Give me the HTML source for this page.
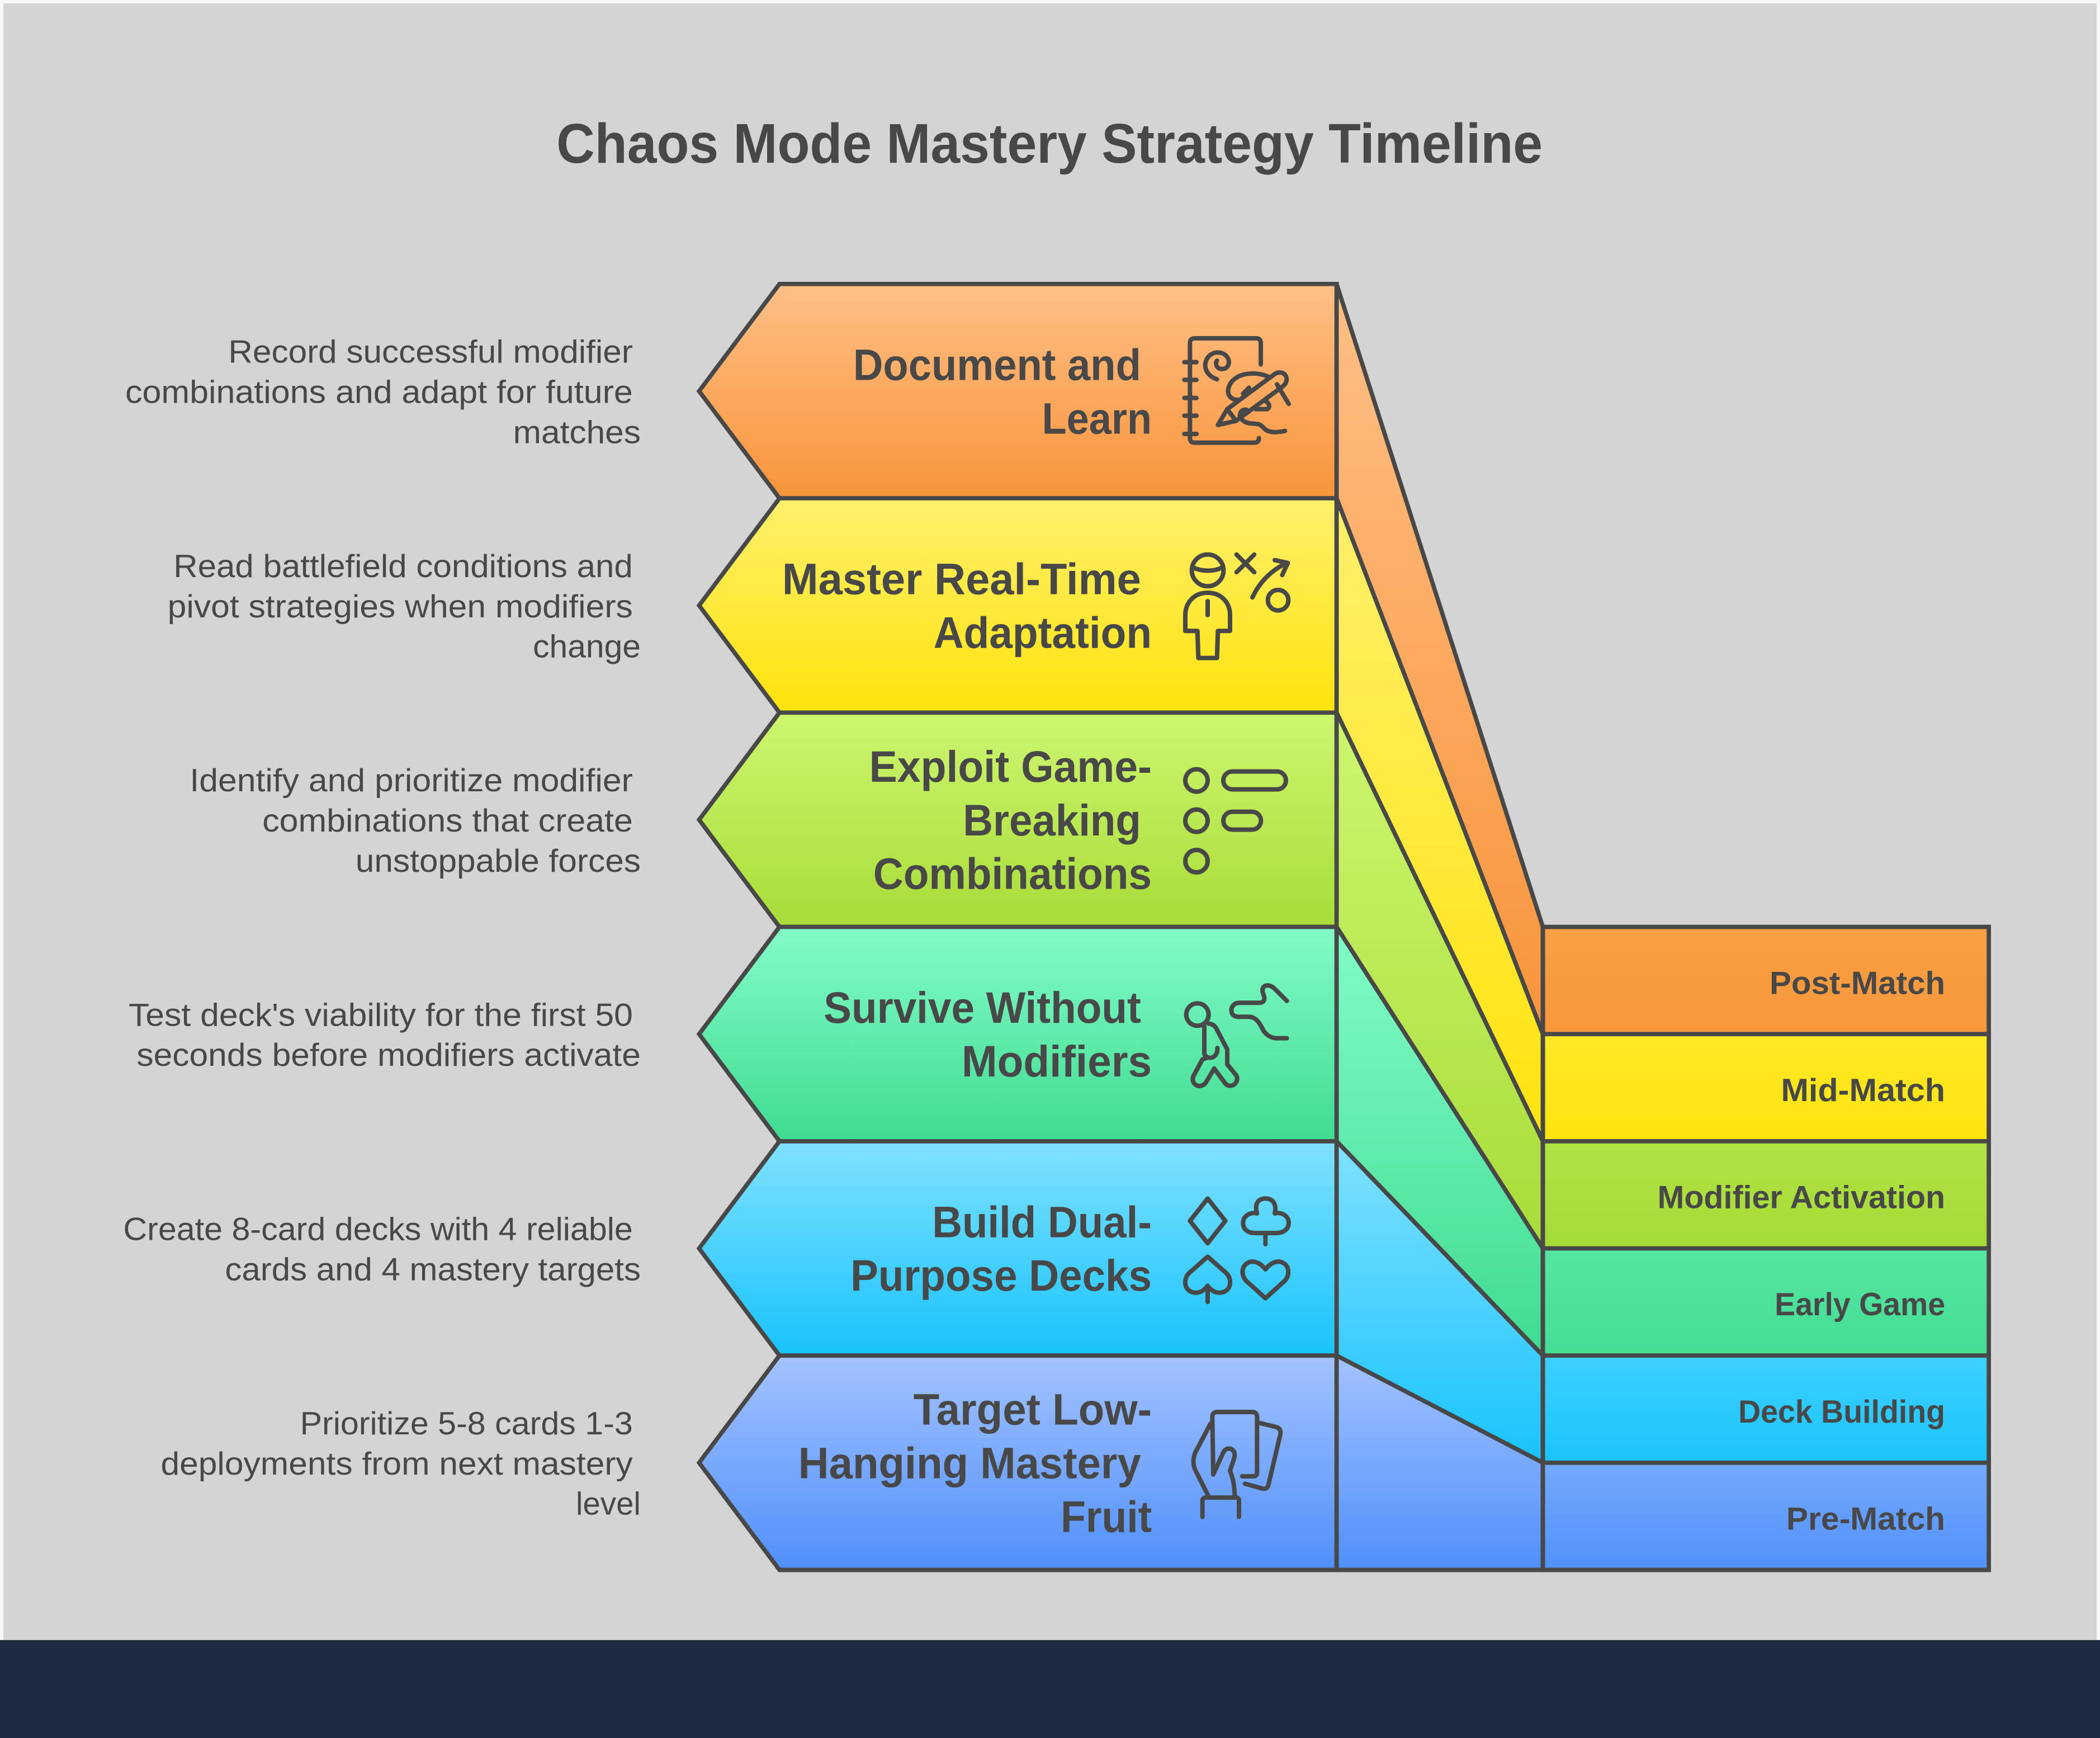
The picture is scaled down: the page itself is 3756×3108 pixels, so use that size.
<!DOCTYPE html>
<html>
<head>
<meta charset="utf-8">
<style>
  html, body { margin: 0; padding: 0; background: #f7f8f9; }
  svg { display: block; }
  .d { font-family: "Liberation Sans", Arial, sans-serif; font-size: 24px; fill: #484848; }
  .t { font-family: "Liberation Sans", Arial, sans-serif; font-size: 33px; font-weight: bold; fill: #484848; }
  .r { font-family: "Liberation Sans", Arial, sans-serif; font-size: 24px; font-weight: bold; fill: #484848; }
  .h { font-family: "Liberation Sans", Arial, sans-serif; font-size: 42px; font-weight: bold; fill: #484848; }
  .ic { fill: none; stroke: #484848; stroke-width: 24; stroke-linecap: round; stroke-linejoin: round; }
</style>
</head>
<body>
<svg width="3756" height="3108" viewBox="0 0 1568 1297.5" preserveAspectRatio="none" xmlns="http://www.w3.org/2000/svg">
  <defs>
    <linearGradient id="g1" x1="0" y1="0" x2="0" y2="1"><stop offset="0" stop-color="#ffbf86"/><stop offset="1" stop-color="#f8943a"/></linearGradient>
    <linearGradient id="g2" x1="0" y1="0" x2="0" y2="1"><stop offset="0" stop-color="#fff06c"/><stop offset="1" stop-color="#ffe30d"/></linearGradient>
    <linearGradient id="g3" x1="0" y1="0" x2="0" y2="1"><stop offset="0" stop-color="#cdf66f"/><stop offset="1" stop-color="#a8dc38"/></linearGradient>
    <linearGradient id="g4" x1="0" y1="0" x2="0" y2="1"><stop offset="0" stop-color="#82fcc8"/><stop offset="1" stop-color="#40db91"/></linearGradient>
    <linearGradient id="g5" x1="0" y1="0" x2="0" y2="1"><stop offset="0" stop-color="#80e1ff"/><stop offset="1" stop-color="#18c3fb"/></linearGradient>
    <linearGradient id="g6" x1="0" y1="0" x2="0" y2="1"><stop offset="0" stop-color="#a3c3ff"/><stop offset="1" stop-color="#4f8ffa"/></linearGradient>

    <linearGradient id="r1" x1="0" y1="0" x2="0" y2="1"><stop offset="0" stop-color="#f9a044"/><stop offset="1" stop-color="#f8963a"/></linearGradient>
    <linearGradient id="r2" x1="0" y1="0" x2="0" y2="1"><stop offset="0" stop-color="#ffe826"/><stop offset="1" stop-color="#ffe40f"/></linearGradient>
    <linearGradient id="r3" x1="0" y1="0" x2="0" y2="1"><stop offset="0" stop-color="#b0e244"/><stop offset="1" stop-color="#a5db36"/></linearGradient>
    <linearGradient id="r4" x1="0" y1="0" x2="0" y2="1"><stop offset="0" stop-color="#55e6a2"/><stop offset="1" stop-color="#44dd94"/></linearGradient>
    <linearGradient id="r5" x1="0" y1="0" x2="0" y2="1"><stop offset="0" stop-color="#3dd0ff"/><stop offset="1" stop-color="#1bc4fc"/></linearGradient>
    <linearGradient id="r6" x1="0" y1="0" x2="0" y2="1"><stop offset="0" stop-color="#74a9fd"/><stop offset="1" stop-color="#5191fa"/></linearGradient>
  </defs>

  <!-- background -->
  <rect x="0" y="0" width="1568" height="1297.5" fill="#f7f8f9"/>
  <rect x="2.5" y="2.5" width="1563" height="1222" fill="#d4d4d4"/>
  <rect x="0" y="1224.4" width="1568" height="73.1" fill="#1b2a40"/>

  <!-- title -->
  <text class="h" x="1151.8" y="121.4" text-anchor="end" textLength="736.3" lengthAdjust="spacingAndGlyphs">Chaos Mode Mastery Strategy Timeline</text>

  <g stroke="#484848" stroke-width="3.2" stroke-linejoin="miter">
    <!-- connector bands -->
    <polygon points="998,212 1152,692 1152,772 998,372" fill="url(#g1)"/>
    <polygon points="998,372 1152,772 1152,852 998,532" fill="url(#g2)"/>
    <polygon points="998,532 1152,852 1152,932 998,692" fill="url(#g3)"/>
    <polygon points="998,692 1152,932 1152,1012 998,852" fill="url(#g4)"/>
    <polygon points="998,852 1152,1012 1152,1092 998,1012" fill="url(#g5)"/>
    <polygon points="998,1012 1152,1092 1152,1172 998,1172" fill="url(#g6)"/>

    <!-- chevrons -->
    <polygon points="582,212 998,212 998,372 582,372 522,292" fill="url(#g1)"/>
    <polygon points="582,372 998,372 998,532 582,532 522,452" fill="url(#g2)"/>
    <polygon points="582,532 998,532 998,692 582,692 522,612" fill="url(#g3)"/>
    <polygon points="582,692 998,692 998,852 582,852 522,772" fill="url(#g4)"/>
    <polygon points="582,852 998,852 998,1012 582,1012 522,932" fill="url(#g5)"/>
    <polygon points="582,1012 998,1012 998,1172 582,1172 522,1092" fill="url(#g6)"/>

    <!-- right boxes -->
    <rect x="1152" y="692" width="333" height="80" fill="url(#r1)"/>
    <rect x="1152" y="772" width="333" height="80" fill="url(#r2)"/>
    <rect x="1152" y="852" width="333" height="80" fill="url(#r3)"/>
    <rect x="1152" y="932" width="333" height="80" fill="url(#r4)"/>
    <rect x="1152" y="1012" width="333" height="80" fill="url(#r5)"/>
    <rect x="1152" y="1092" width="333" height="80" fill="url(#r6)"/>
  </g>

  <!-- descriptions -->
  <text class="d" x="472.5" y="270.8" text-anchor="end" textLength="302" lengthAdjust="spacingAndGlyphs">Record successful modifier</text>
  <text class="d" x="472.5" y="300.8" text-anchor="end" textLength="379" lengthAdjust="spacingAndGlyphs">combinations and adapt for future</text>
  <text class="d" x="478.4" y="330.8" text-anchor="end" textLength="95.3" lengthAdjust="spacingAndGlyphs">matches</text>

  <text class="d" x="472.5" y="430.8" text-anchor="end" textLength="343" lengthAdjust="spacingAndGlyphs">Read battlefield conditions and</text>
  <text class="d" x="472.5" y="460.8" text-anchor="end" textLength="347.4" lengthAdjust="spacingAndGlyphs">pivot strategies when modifiers</text>
  <text class="d" x="478.4" y="490.8" text-anchor="end" textLength="80.5" lengthAdjust="spacingAndGlyphs">change</text>

  <text class="d" x="472.5" y="590.8" text-anchor="end" textLength="330.8" lengthAdjust="spacingAndGlyphs">Identify and prioritize modifier</text>
  <text class="d" x="472.5" y="620.8" text-anchor="end" textLength="276.6" lengthAdjust="spacingAndGlyphs">combinations that create</text>
  <text class="d" x="478.4" y="650.8" text-anchor="end" textLength="213" lengthAdjust="spacingAndGlyphs">unstoppable forces</text>

  <text class="d" x="472.5" y="765.8" text-anchor="end" textLength="376.5" lengthAdjust="spacingAndGlyphs">Test deck's viability for the first 50</text>
  <text class="d" x="478.4" y="795.8" text-anchor="end" textLength="376.4" lengthAdjust="spacingAndGlyphs">seconds before modifiers activate</text>

  <text class="d" x="472.5" y="925.8" text-anchor="end" textLength="380.5" lengthAdjust="spacingAndGlyphs">Create 8-card decks with 4 reliable</text>
  <text class="d" x="478.4" y="955.8" text-anchor="end" textLength="310.4" lengthAdjust="spacingAndGlyphs">cards and 4 mastery targets</text>

  <text class="d" x="472.5" y="1070.8" text-anchor="end" textLength="248.5" lengthAdjust="spacingAndGlyphs">Prioritize 5-8 cards 1-3</text>
  <text class="d" x="472.5" y="1100.8" text-anchor="end" textLength="352.5" lengthAdjust="spacingAndGlyphs">deployments from next mastery</text>
  <text class="d" x="478.4" y="1130.8" text-anchor="end" textLength="48.4" lengthAdjust="spacingAndGlyphs">level</text>

  <!-- chevron titles -->
  <text class="t" x="852" y="283.7" text-anchor="end" textLength="215" lengthAdjust="spacingAndGlyphs">Document and</text>
  <text class="t" x="860" y="323.7" text-anchor="end" textLength="82" lengthAdjust="spacingAndGlyphs">Learn</text>

  <text class="t" x="852" y="443.6" text-anchor="end" textLength="268" lengthAdjust="spacingAndGlyphs">Master Real-Time</text>
  <text class="t" x="860" y="483.6" text-anchor="end" textLength="163" lengthAdjust="spacingAndGlyphs">Adaptation</text>

  <text class="t" x="860" y="583.6" text-anchor="end" textLength="211" lengthAdjust="spacingAndGlyphs">Exploit Game-</text>
  <text class="t" x="852" y="623.6" text-anchor="end" textLength="133" lengthAdjust="spacingAndGlyphs">Breaking</text>
  <text class="t" x="860" y="663.6" text-anchor="end" textLength="208" lengthAdjust="spacingAndGlyphs">Combinations</text>

  <text class="t" x="852" y="763.6" text-anchor="end" textLength="237" lengthAdjust="spacingAndGlyphs">Survive Without</text>
  <text class="t" x="860" y="803.6" text-anchor="end" textLength="142" lengthAdjust="spacingAndGlyphs">Modifiers</text>

  <text class="t" x="860" y="923.6" text-anchor="end" textLength="164" lengthAdjust="spacingAndGlyphs">Build Dual-</text>
  <text class="t" x="860" y="963.6" text-anchor="end" textLength="225" lengthAdjust="spacingAndGlyphs">Purpose Decks</text>

  <text class="t" x="860" y="1063.6" text-anchor="end" textLength="178" lengthAdjust="spacingAndGlyphs">Target Low-</text>
  <text class="t" x="852" y="1103.6" text-anchor="end" textLength="256" lengthAdjust="spacingAndGlyphs">Hanging Mastery</text>
  <text class="t" x="860" y="1143.6" text-anchor="end" textLength="68" lengthAdjust="spacingAndGlyphs">Fruit</text>

  <!-- right labels -->
  <text class="r" x="1452.4" y="742" text-anchor="end" textLength="131.1" lengthAdjust="spacingAndGlyphs">Post-Match</text>
  <text class="r" x="1452.4" y="822" text-anchor="end" textLength="122.6" lengthAdjust="spacingAndGlyphs">Mid-Match</text>
  <text class="r" x="1452.4" y="902" text-anchor="end" textLength="214.8" lengthAdjust="spacingAndGlyphs">Modifier Activation</text>
  <text class="r" x="1452.4" y="982" text-anchor="end" textLength="127.3" lengthAdjust="spacingAndGlyphs">Early Game</text>
  <text class="r" x="1452.4" y="1062" text-anchor="end" textLength="154.5" lengthAdjust="spacingAndGlyphs">Deck Building</text>
  <text class="r" x="1452.4" y="1142" text-anchor="end" textLength="118.7" lengthAdjust="spacingAndGlyphs">Pre-Match</text>

  <!-- icon 1: document & learn -->
  <g class="ic" transform="translate(868.33,233.78) scale(0.13915)">
    <path d="M525,275 L525,160 Q525,135 500,135 L170,135 Q145,135 145,160 L145,670 Q145,695 170,695 L490,695 Q515,695 515,670"/>
    <path d="M115,263 L180,263 M115,358 L180,358 M115,455 L180,455 M115,550 L180,550 M115,648 L180,648"/>
    <path d="M290,355 C245,340 222,305 228,268 C235,228 272,205 308,212 C345,220 362,255 350,280 C340,302 310,305 295,292 C282,280 283,262 290,255"/>
    <path d="M295,600 L345,515 L595,330 C618,312 648,315 660,338 C670,360 660,380 640,395 L392,578 Z"/>
    <path d="M345,515 L392,578"/>
    <path d="M612,382 L675,487"/>
    <path d="M410,465 C368,470 345,440 350,410 C358,360 405,330 460,325 C505,320 545,330 572,345"/>
    <path d="M430,432 L462,400"/>
    <path d="M545,470 C570,478 578,505 560,515 L498,515"/>
    <path d="M415,548 C412,528 428,515 448,518"/>
    <path d="M412,548 C418,578 450,592 480,592 L510,595 C528,598 540,618 555,628 C578,642 620,640 655,632"/>
  </g>

  <!-- icon 2: master real-time -->
  <g class="ic" transform="translate(868.33,396.59) scale(0.13915)">
    <circle cx="240" cy="210" r="85"/>
    <path d="M158,192 C205,218 278,218 322,192"/>
    <path d="M240,330 C165,330 120,385 120,450 L120,535 L185,535 L190,680 L290,680 L295,535 L360,535 L360,450 C360,385 315,330 240,330 Z"/>
    <path d="M240,375 L240,450"/>
    <path d="M395,125 L490,220 M490,125 L395,220"/>
    <path d="M480,355 C520,270 580,210 665,170"/>
    <path d="M600,155 L670,170 L640,235"/>
    <circle cx="618" cy="370" r="55"/>
  </g>

  <!-- icon 3: exploit combos -->
  <g class="ic" transform="translate(868.33,555.23) scale(0.13915)">
    <circle cx="180" cy="197" r="60"/>
    <circle cx="180" cy="413" r="60"/>
    <circle cx="180" cy="630" r="60"/>
    <rect x="324" y="149" width="336" height="96" rx="48"/>
    <rect x="324" y="365" width="202" height="96" rx="48"/>
  </g>

  <!-- icon 4: survive -->
  <g class="ic" transform="translate(868.33,718.04) scale(0.13915)">
    <circle cx="185" cy="283" r="60"/>
    <path d="M222,345 L222,492"/>
    <path d="M292,462 C295,505 262,525 235,510 C228,505 224,500 222,492"/>
    <path d="M245,332 C262,332 275,340 285,355 L345,470 L345,550 L390,605 C410,630 390,665 360,665 C345,665 335,655 325,640 L275,572 L235,640 C225,660 205,670 185,665 C160,655 155,630 165,610 L210,527 C215,520 222,518 230,518"/>
    <path d="M665,210 L600,145 C580,125 550,118 537,140 C525,162 555,190 540,210 C535,218 525,220 515,220 L410,220 C380,220 360,245 370,275 C380,300 410,295 430,295 L460,295 C500,295 520,330 540,370 C560,400 590,410 610,410 L665,410"/>
  </g>

  <!-- icon 5: card suits -->
  <g class="ic" transform="translate(868.33,880.85) scale(0.13915)">
    <path d="M240,100 L335,220 L240,340 L145,220 Z"/>
    <path d="M505,180 C475,170 430,190 430,230 C430,265 455,285 490,285 L610,285 C645,285 675,265 675,230 C675,190 630,170 600,180 C612,130 590,100 550,100 C510,100 490,130 505,180 Z"/>
    <path d="M550,285 L550,345"/>
    <path d="M240,412 L140,500 C105,535 115,600 170,605 C200,608 225,590 240,568 C255,590 280,608 310,605 C365,600 375,535 340,500 Z"/>
    <path d="M240,570 L240,655"/>
    <path d="M550,480 C520,440 480,430 455,445 C420,465 420,510 445,540 L550,635 L655,540 C680,510 680,465 645,445 C620,430 580,440 550,480 Z"/>
  </g>

  <!-- icon 6: hand with cards -->
  <g class="ic" transform="translate(868.33,1035.32) scale(0.13915)">
    <path d="M270,470 L265,160 C265,145 275,135 290,135 L480,135 C495,135 505,145 505,160 L505,460 C505,475 495,480 485,480 L425,480"/>
    <path d="M510,192 L605,215 C625,220 635,235 630,255 L565,530 C560,545 545,550 530,545 L440,520"/>
    <path d="M255,198 L175,350 C160,380 160,420 175,450 L245,588"/>
    <path d="M270,470 L325,350 C335,330 360,325 375,340 C390,355 385,375 380,390 L360,450 C375,490 385,530 385,590"/>
    <path d="M212,698 L212,612 C212,600 220,594 230,594 L392,594 C402,594 408,600 408,612 L408,698"/>
  </g>

  <!-- outline strokes on top for crisp shared edges -->
  <g fill="none" stroke="#484848" stroke-width="3.2">
    <line x1="998" y1="212" x2="998" y2="1172"/>
    <line x1="1152" y1="692" x2="1152" y2="1172"/>
    <line x1="582" y1="1172" x2="1485" y2="1172"/>
    <rect x="1152" y="692" width="333" height="480"/>
  </g>
</svg>
</body>
</html>
